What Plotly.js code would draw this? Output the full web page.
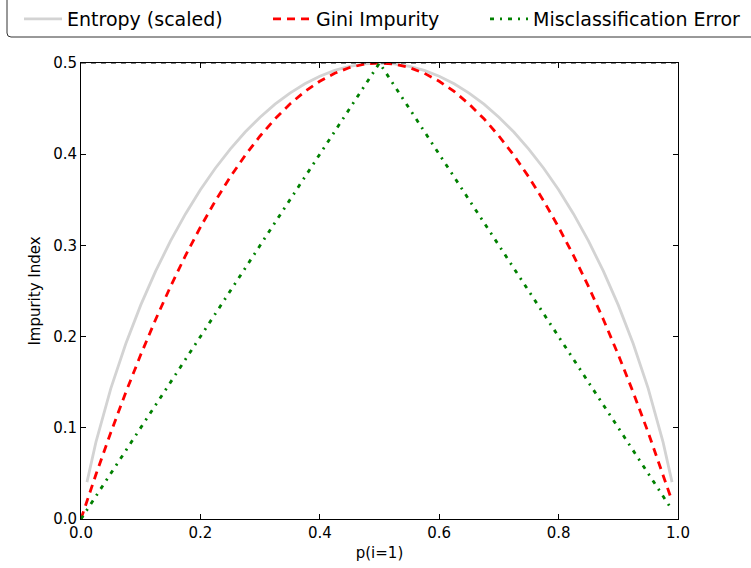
<!DOCTYPE html>
<html>
<head>
<meta charset="utf-8">
<script src="https://cdn.plot.ly/plotly-3.0.1.min.js"></script>
<style>html,body{margin:0;padding:0;background:#fff;}#chart{width:751px;height:568px;}</style>
</head>
<body>
<div id="chart"></div>
<script>
const seriesNames = ['Entropy (scaled)', 'Gini Impurity', 'Misclassification Error'];
const p = [0, 0.01, 0.025, 0.05, 0.075, 0.1, 0.125, 0.15, 0.175, 0.2, 0.225, 0.25, 0.275, 0.3, 0.325, 0.35, 0.375, 0.4, 0.425, 0.45, 0.475, 0.5,
           0.525, 0.55, 0.575, 0.6, 0.625, 0.65, 0.675, 0.7, 0.725, 0.75, 0.775, 0.8, 0.825, 0.85, 0.875, 0.9, 0.925, 0.95, 0.975, 0.99];
const entropyScaled = [null, 0.0404, 0.0843, 0.1432, 0.1922, 0.2345, 0.2718, 0.3049, 0.3345, 0.3610, 0.3846, 0.4056, 0.4243, 0.4406, 0.4549, 0.4670, 0.4772, 0.4855, 0.4919, 0.4964, 0.4991, 0.5,
           0.4991, 0.4964, 0.4919, 0.4855, 0.4772, 0.4670, 0.4549, 0.4406, 0.4243, 0.4056, 0.3846, 0.3610, 0.3345, 0.3049, 0.2718, 0.2345, 0.1922, 0.1432, 0.0843, 0.0404];
const gini = [0, 0.0198, 0.0488, 0.095, 0.1388, 0.18, 0.2188, 0.255, 0.2888, 0.32, 0.3488, 0.375, 0.3988, 0.42, 0.4388, 0.455, 0.4688, 0.48, 0.4888, 0.495, 0.4988, 0.5,
           0.4988, 0.495, 0.4888, 0.48, 0.4688, 0.455, 0.4388, 0.42, 0.3988, 0.375, 0.3488, 0.32, 0.2888, 0.255, 0.2188, 0.18, 0.1388, 0.095, 0.0488, 0.0198];
const misclass = [0, 0.01, 0.025, 0.05, 0.075, 0.1, 0.125, 0.15, 0.175, 0.2, 0.225, 0.25, 0.275, 0.3, 0.325, 0.35, 0.375, 0.4, 0.425, 0.45, 0.475, 0.5,
           0.475, 0.45, 0.425, 0.4, 0.375, 0.35, 0.325, 0.3, 0.275, 0.25, 0.225, 0.2, 0.175, 0.15, 0.125, 0.1, 0.075, 0.05, 0.025, 0.01];
const refLines = [0.5];
const xTicks = [0, 0.2, 0.4, 0.6, 0.8, 1.0];
const yTicks = [0, 0.1, 0.2, 0.3, 0.4, 0.5];

const W = 751, H = 568;
const M = {l: 81, r: 73, t: 63, b: 49};
const plotH = H - M.t - M.b;
const px2x = v => v / W;                    // paper x (margins l=r=0)
const px2y = v => (H - M.b - v) / plotH;    // paper y
const FONT = 'DejaVu Sans, sans-serif';

const traces = [
  {x: p, y: entropyScaled, name: seriesNames[0], legend: 'legend', mode: 'lines', line: {color: '#d3d3d3', width: 2.8}},
  {x: p, y: gini, name: seriesNames[1], legend: 'legend2', mode: 'lines', line: {color: '#ff0000', width: 2.8, dash: '8px,6px'}},
  {x: p, y: misclass, name: seriesNames[2], legend: 'legend3', mode: 'lines', line: {color: '#008000', width: 2.8, dash: '4px,6px,2px,6px'}}
];
const axisCommon = {
  showgrid: false, zeroline: false, showline: true, mirror: 'ticks',
  linecolor: '#000', linewidth: 1, ticks: 'inside', ticklen: 5, tickwidth: 1, tickcolor: '#000',
  tickfont: {family: FONT, size: 15, color: '#000'}, tickformat: '.1f'
};
const legendCommon = {
  orientation: 'h', xanchor: 'left', y: px2y(19), yanchor: 'middle',
  borderwidth: 0, bgcolor: 'rgba(0,0,0,0)', itemwidth: 38,
  font: {family: FONT, size: 19, color: '#000'}
};
const layout = {
  width: W, height: H,
  paper_bgcolor: '#fff', plot_bgcolor: '#fff',
  font: {family: FONT, color: '#000'},
  margin: {l: 0, r: 0, t: M.t, b: M.b},
  showlegend: true,
  legend: Object.assign({}, legendCommon, {x: px2x(19)}),
  legend2: Object.assign({}, legendCommon, {x: px2x(268)}),
  legend3: Object.assign({}, legendCommon, {x: px2x(485)}),
  xaxis: Object.assign({}, axisCommon, {range: [0, 1], tickvals: xTicks, domain: [M.l / W, (W - M.r) / W],
    title: {text: 'p(i=1)', font: {family: FONT, size: 15, color: '#000'}, standoff: 6}}),
  yaxis: Object.assign({}, axisCommon, {range: [0, 0.5], tickvals: yTicks,
    title: {text: 'Impurity Index', font: {family: FONT, size: 15, color: '#000'}, standoff: 8}}),
  shapes: refLines.map(v => ({type: 'line', xref: 'x', x0: 0, x1: 1, yref: 'y', y0: v, y1: v,
    line: {color: '#000', width: 1, dash: '5px,5px'}})).concat([{
      type: 'path', xref: 'paper', yref: 'paper', layer: 'above',
      path: 'M' + px2x(7) + ',' + px2y(-5) + ' L' + px2x(7) + ',' + px2y(33) +
            ' Q' + px2x(7) + ',' + px2y(37) + ' ' + px2x(11) + ',' + px2y(37) +
            ' L' + px2x(760) + ',' + px2y(37),
      line: {color: '#333', width: 1}
    }])
};
Plotly.newPlot('chart', traces, layout, {displayModeBar: false, staticPlot: true});
</script>
</body>
</html>
